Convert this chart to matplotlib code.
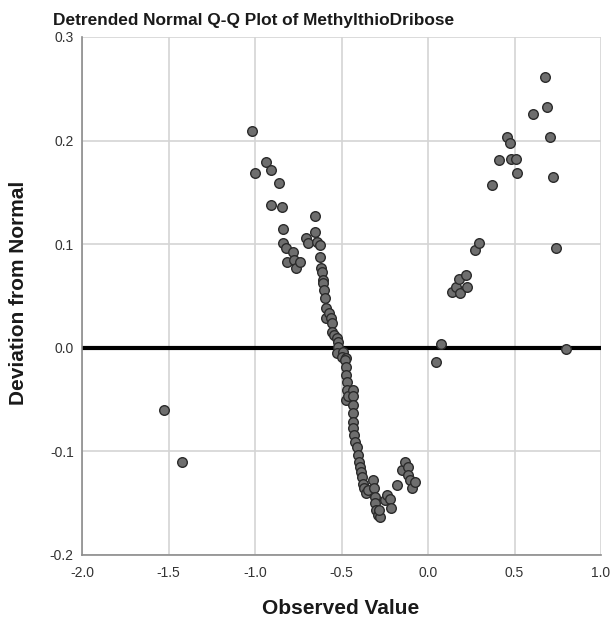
import matplotlib
matplotlib.use("Agg")
import matplotlib.pyplot as plt

plt.rcParams['font.family'] = ['Liberation Sans', 'DejaVu Sans']

title = "Detrended Normal Q-Q Plot of MethylthioDribose"
xlabel = "Observed Value"
ylabel = "Deviation from Normal"
xticks = [-2.0, -1.5, -1.0, -0.5, 0.0, 0.5, 1.0]
yticks = [-0.2, -0.1, 0.0, 0.1, 0.2, 0.3]

observed = [
    -1.526, -1.422,
    -1.017, -0.936, -0.908, -1.000, -0.908, -0.861, -0.844, -0.838, -0.838, -0.821,
    -0.815, -0.780, -0.775, -0.763, -0.740, -0.705, -0.694, -0.653, -0.653, -0.642,
    -0.624, -0.624, -0.618, -0.613, -0.607, -0.607, -0.601, -0.595, -0.590, -0.590,
    -0.572, -0.561, -0.555, -0.555, -0.543, -0.526, -0.520, -0.520, -0.526, -0.491,
    -0.497, -0.474, -0.480, -0.474, -0.474, -0.468, -0.468, -0.474, -0.462, -0.434,
    -0.434, -0.434, -0.434, -0.434, -0.434, -0.428, -0.422, -0.410, -0.405, -0.399,
    -0.393, -0.387, -0.382, -0.376, -0.370, -0.358, -0.347, -0.318, -0.312, -0.306,
    -0.306, -0.301, -0.289, -0.277, -0.283, -0.249, -0.237, -0.220, -0.214, -0.179,
    -0.150, -0.133, -0.116, -0.116, -0.104, -0.092, -0.075,
    0.046, 0.075, 0.139, 0.162, 0.179, 0.185, 0.220, 0.225, 0.272, 0.295, 0.370,
    0.410, 0.457, 0.474, 0.480, 0.509, 0.514, 0.607, 0.676, 0.688, 0.705, 0.723,
    0.740, 0.798,
]
deviation = [
    -0.060, -0.110,
    0.209, 0.179, 0.172, 0.169, 0.138, 0.159, 0.136, 0.115, 0.101, 0.096,
    0.083, 0.092, 0.085, 0.077, 0.083, 0.106, 0.101, 0.127, 0.112, 0.102,
    0.099, 0.088, 0.077, 0.073, 0.065, 0.063, 0.056, 0.048, 0.038, 0.029,
    0.034, 0.029, 0.024, 0.015, 0.012, 0.009, 0.006, 0.001, -0.005, -0.004,
    -0.009, -0.010, -0.012, -0.019, -0.026, -0.033, -0.041, -0.050, -0.047, -0.041,
    -0.047, -0.055, -0.063, -0.072, -0.077, -0.084, -0.091, -0.096, -0.103, -0.110,
    -0.115, -0.120, -0.125, -0.131, -0.135, -0.140, -0.137, -0.128, -0.135, -0.144,
    -0.150, -0.157, -0.161, -0.163, -0.157, -0.147, -0.142, -0.146, -0.155, -0.132,
    -0.118, -0.110, -0.115, -0.123, -0.128, -0.135, -0.130,
    -0.014, 0.004, 0.054, 0.059, 0.066, 0.053, 0.070, 0.059, 0.094, 0.101, 0.157,
    0.181, 0.203, 0.198, 0.182, 0.182, 0.169, 0.226, 0.261, 0.232, 0.203, 0.165,
    0.096, -0.001,
]

W, H = 613, 623
fig = plt.figure(figsize=(W / 100, H / 100), dpi=100)
ax = fig.add_axes([82 / W, 1 - 555 / H, (601 - 82) / W, (555 - 37) / H])

ax.set_xlim(-2.0, 1.0)
ax.set_ylim(-0.2, 0.3)
ax.set_xticks(xticks)
ax.set_yticks(yticks)
ax.set_xticklabels([f"{t:.1f}" for t in xticks])
ax.set_yticklabels([f"{t:.1f}" for t in yticks])
ax.grid(True, color="#d4d4d4", linewidth=1.2, zorder=0)
ax.set_axisbelow(True)
for s in ["top", "right"]:
    ax.spines[s].set_visible(False)
for s in ["left", "bottom"]:
    ax.spines[s].set_color("#8c8c8c")
    ax.spines[s].set_linewidth(1.2)
ax.tick_params(length=0, labelsize=10, labelcolor="#333333")
ax.tick_params(axis="x", pad=8)
ax.tick_params(axis="y", pad=6)

ax.axhline(0.0, color="black", linewidth=3, zorder=2)
ax.scatter(observed, deviation, s=48, facecolor="#6e6e6e", edgecolor="#2b2b2b",
           linewidth=1.0, zorder=3)

fig.text(53 / W, 1 - 20 / H, title, fontsize=12.4, fontweight="bold", ha="left",
         va="center", color="#1a1a1a")
fig.text(340.5 / W, 1 - 608 / H, xlabel, fontsize=15, fontweight="bold", ha="center",
         va="center", color="#1a1a1a")
fig.text(19 / W, 1 - 293 / H, ylabel, fontsize=15, fontweight="bold", ha="center",
         va="center", rotation=90, color="#1a1a1a")

fig.savefig("out.png", dpi=100)
